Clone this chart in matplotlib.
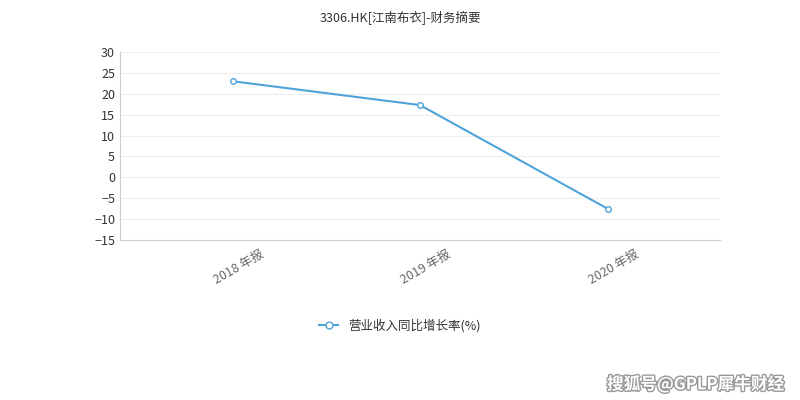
import matplotlib
matplotlib.use("Agg")
import matplotlib.pyplot as plt
import matplotlib.patheffects as pe
import matplotlib.transforms as mtrans
from matplotlib.lines import Line2D

plt.rcParams['font.family'] = ['Noto Sans CJK SC', 'DejaVu Sans']

periods = ["2018 年报", "2019 年报", "2020 年报"]
growth = [23.0, 17.3, -7.5]
yticks = list(range(-15, 31, 5))

fig = plt.figure(figsize=(8, 4), dpi=100)
ax = fig.add_axes([0.15, 0.40, 0.75, 0.47])

line_color = "#4fa3d9"
x = list(range(len(periods)))
ax.plot(x, growth, color=line_color, lw=1.5, marker="o", markersize=4,
        markerfacecolor="white", markeredgecolor=line_color, markeredgewidth=1)

ax.set_xlim(-0.6, 2.6)
ax.set_ylim(-15, 30)
ax.set_yticks(yticks)
ax.set_xticks(x)
ax.set_xticklabels([])
# category labels, shifted right like the original
trans = ax.get_xaxis_transform() + mtrans.ScaledTranslation(0.27, -0.08, fig.dpi_scale_trans)
for xi, lab in zip(x, periods):
    ax.text(xi, 0, lab, transform=trans, rotation=30, ha="right", va="top",
            rotation_mode="anchor", fontsize=9, color="#666666")
ax.grid(axis="y", color="#eeeeee", lw=0.8)
ax.set_axisbelow(True)
for s in ["top", "right"]:
    ax.spines[s].set_visible(False)
ax.spines["left"].set_color("#cccccc")
ax.spines["bottom"].set_color("#cccccc")
ax.tick_params(axis="y", length=0, labelsize=9, colors="#333333")
ax.tick_params(axis="x", length=0)

fig.text(0.5, 0.955, "3306.HK[江南布衣]-财务摘要", ha="center", va="center",
         fontsize=9, color="#333333")

handle = Line2D([0], [0], color=line_color, lw=1.5, marker="o", markersize=5,
                markerfacecolor="white", markeredgecolor=line_color)
fig.legend([handle], ["营业收入同比增长率(%)"], loc="center", bbox_to_anchor=(0.5, 0.185),
           frameon=False, fontsize=9, labelcolor="#333333", handlelength=1.5)

fig.text(0.98, 0.04, "搜狐号@GPLP犀牛财经", ha="right", va="center",
         fontsize=12, color="white", fontweight="bold",
         path_effects=[pe.withStroke(linewidth=2, foreground="#999999")])

fig.savefig("out.png")
